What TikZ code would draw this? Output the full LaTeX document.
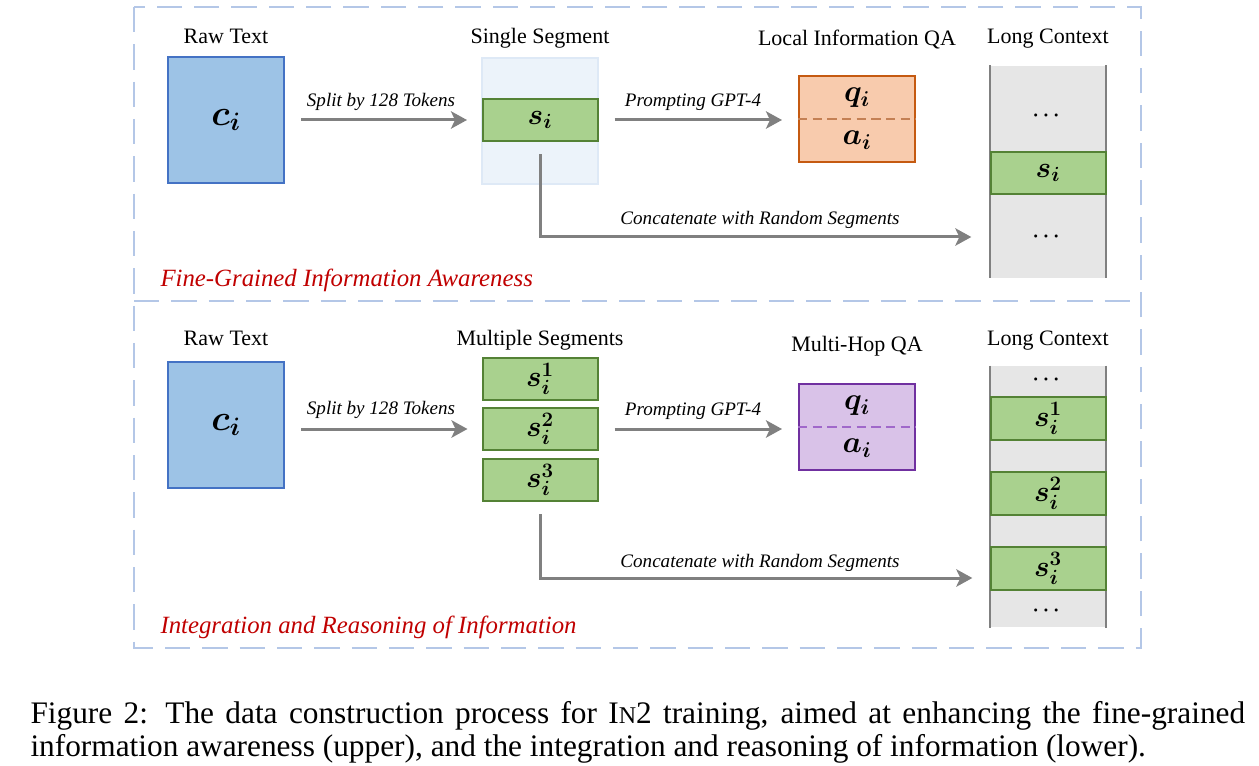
\documentclass[tikz,border=0pt]{standalone}
\usepackage{fix-cm}
\usepackage{amsmath,bm}
\usepackage{fontspec}
\setmainfont{Liberation Serif}
\usetikzlibrary{arrows.meta}

\definecolor{rawfill}{RGB}{157,195,230}
\definecolor{rawline}{RGB}{68,114,196}
\definecolor{segfill}{RGB}{169,209,142}
\definecolor{segline}{RGB}{84,130,53}
\definecolor{qafill}{RGB}{248,203,173}
\definecolor{qaline}{RGB}{197,90,17}
\definecolor{qadash}{RGB}{196,128,84}
\definecolor{mhfill}{RGB}{217,194,232}
\definecolor{mhline}{RGB}{112,48,160}
\definecolor{mhdash}{RGB}{160,104,202}
\definecolor{ctxfill}{RGB}{230,230,230}
\definecolor{ctxside}{RGB}{128,128,128}
\definecolor{flowgray}{RGB}{128,128,128}
\definecolor{bgfill}{RGB}{236,243,250}
\definecolor{bgline}{RGB}{222,233,246}
\definecolor{panelline}{RGB}{180,199,231}
\definecolor{tagred}{RGB}{192,0,0}

\tikzset{every picture/.style={line width=0.75pt}}
\tikzset{
  rawbox/.style={draw=rawline, fill=rawfill, line width=1.5pt, minimum width=87pt, minimum height=94.5pt, inner sep=0pt, font=\fontsize{27}{27}\selectfont},
  bgbox/.style={draw=bgline, fill=bgfill, line width=1.5pt, minimum width=87pt, minimum height=94.5pt, inner sep=0pt},
  segbox/.style={draw=segline, fill=segfill, line width=1.5pt, minimum width=86.25pt, minimum height=32pt, inner sep=0pt, font=\fontsize{22}{22}\selectfont},
  qabox/.style={line width=1.5pt, minimum width=87pt, minimum height=64.5pt, inner sep=0pt},
  qasplit/.style={line width=2.2pt, dash pattern=on 7pt off 4pt},
  ctxbox/.style={fill=ctxfill, minimum width=86.25pt, inner sep=0pt},
  ctxwall/.style={draw=ctxside, line width=2pt},
  dotsnode/.style={minimum width=86.25pt, inner sep=0pt, font=\fontsize{15}{15}\selectfont},
  mathnode/.style={inner sep=0pt, font=\fontsize{23}{23}\selectfont},
  title/.style={anchor=base, inner sep=0pt, font=\fontsize{16.5}{16.5}\selectfont},
  flowlbl/.style={anchor=base, inner sep=0pt, font=\fontsize{14.3}{14.3}\selectfont\itshape},
  tag/.style={anchor=base west, inner sep=0pt, text=tagred, font=\fontsize{18.6}{18.6}\selectfont\itshape},
  flow/.style={draw=flowgray, line width=2.25pt, -{Stealth[length=12pt, width=13pt, inset=3pt]}},
  panel/.style={draw=panelline, line width=2pt, dash pattern=on 19pt off 9pt},
}

\begin{document}
\begin{tikzpicture}[x=0.75pt,y=0.75pt,yscale=-1,xscale=1]
	\useasboundingbox (0,0) rectangle (1259,766);
	
	%Shape: Dashed Frame
	\draw [panel] (134,7) rectangle (1141,648) ;
	%Straight Lines
	\draw [panel] (134,301) -- (1141,301) ;
	
	%%% upper part
	%Shape: Rectangle
	\node [rawbox] (rawA) at (226,120) {$\bm{c_i}$};
	%Shape: Rectangle
	\node [bgbox] (bgA) at (540,121) {};
	%Shape: Rectangle
	\node [segbox] (segA) at (540,120) {$\bm{s_i}$};
	%Shape: Rectangle
	\node [qabox, draw=qaline, fill=qafill] (qaA) at (857,119) {};
	\draw [qasplit, draw=qadash] (qaA.west) -- (qaA.east) ;
	\node [mathnode] (qA) at (857,98) {$\bm{q_i}$};
	\node [mathnode] (aA) at (857,140) {$\bm{a_i}$};
	%Shape: Long Context
	\node [ctxbox, minimum height=159pt] (ctxA) at (1048,172) {};
	\draw [ctxwall] (ctxA.north west) -- (ctxA.south west) ;
	\draw [ctxwall] (ctxA.north east) -- (ctxA.south east) ;
	\node [dotsnode] (dotsA1) at (1048,116) {$\bm{\cdots}$};
	\node [segbox] (ctxsA) at (1048,173) {$\bm{s_i}$};
	\node [dotsnode] (dotsA2) at (1048,237) {$\bm{\cdots}$};
	
	%Straight Lines
	\draw [flow, shorten <=12pt, shorten >=10.5pt] (rawA.east) -- (rawA.east -| bgA.west) ;
	%Straight Lines
	\draw [flow, shorten <=12pt, shorten >=12pt] (segA.east) -- (segA.east -| qaA.west) ;
	%Straight Lines
	\draw [flow, shorten <=9pt, shorten >=14pt] (segA.south) |- (dotsA2.west) ;
	
	% Text Node
	\node [title] (rawtA) at (226,44) {Raw Text};
	% Text Node
	\node [title] (segtA) at (540,44) {Single Segment};
	% Text Node
	\node [title] (qatA) at (857,46) {Local Information QA};
	% Text Node
	\node [title] (ctxtA) at (1048,44) {Long Context};
	% Text Node
	\node [flowlbl] (splitA) at (381,107) {Split by 128 Tokens};
	% Text Node
	\node [flowlbl] (promptA) at (693,107) {Prompting GPT-4};
	% Text Node
	\node [flowlbl] (catA) at (760,225) {Concatenate with Random Segments};
	% Text Node
	\node [tag] (tagA) at (160,287) {Fine-Grained Information Awareness};
	
	%%% lower part
	%Shape: Rectangle
	\node [rawbox] (rawB) at (226,425) {$\bm{c_i}$};
	%Shape: Rectangle
	\node [segbox] (segB1) at (540,379) {$\bm{s_i^1}$};
	\node [segbox] (segB2) at (540,429) {$\bm{s_i^2}$};
	\node [segbox] (segB3) at (540,480) {$\bm{s_i^3}$};
	%Shape: Rectangle
	\node [qabox, draw=mhline, fill=mhfill] (mhB) at (857,427) {};
	\draw [qasplit, draw=mhdash] (mhB.west) -- (mhB.east) ;
	\node [mathnode] (qB) at (857,406) {$\bm{q_i}$};
	\node [mathnode] (aB) at (857,448) {$\bm{a_i}$};
	%Shape: Long Context
	\node [ctxbox, minimum height=195.75pt] (ctxB) at (1048,496.5) {};
	\draw [ctxwall] (ctxB.north west) -- (ctxB.south west) ;
	\draw [ctxwall] (ctxB.north east) -- (ctxB.south east) ;
	\node [dotsnode] (dotsB1) at (1048,380) {$\bm{\cdots}$};
	\node [segbox] (ctxsB1) at (1048,418.5) {$\bm{s_i^1}$};
	\node [segbox] (ctxsB2) at (1048,493.5) {$\bm{s_i^2}$};
	\node [segbox] (ctxsB3) at (1048,568.5) {$\bm{s_i^3}$};
	\node [dotsnode] (dotsB2) at (1048,611) {$\bm{\cdots}$};
	\coordinate (catB) at (991,578);
	
	%Straight Lines
	\draw [flow, shorten <=12pt, shorten >=10.5pt] (rawB.east |- segB2.west) -- (segB2.west) ;
	%Straight Lines
	\draw [flow, shorten <=12pt, shorten >=12pt] (segB2.east) -- (segB2.east -| mhB.west) ;
	%Straight Lines
	\draw [flow, shorten <=9pt, shorten >=14pt] (segB3.south) |- (catB) ;
	
	% Text Node
	\node [title] (rawtB) at (226,345) {Raw Text};
	% Text Node
	\node [title] (segtB) at (540,345) {Multiple Segments};
	% Text Node
	\node [title] (mhtB) at (857,352) {Multi-Hop QA};
	% Text Node
	\node [title] (ctxtB) at (1048,345) {Long Context};
	% Text Node
	\node [flowlbl] (splitB) at (381,414) {Split by 128 Tokens};
	% Text Node
	\node [flowlbl] (promptB) at (693,415) {Prompting GPT-4};
	% Text Node
	\node [flowlbl] (catlB) at (760,567) {Concatenate with Random Segments};
	% Text Node
	\node [tag] (tagB) at (160,633) {Integration and Reasoning of Information};
	
	% Text Node
	\node [anchor=base west, inner sep=0pt, font=\fontsize{23.5}{25}\selectfont] (caption) at (30,723) {\parbox[t]{911pt}{Figure 2: The data construction process for I{\fontsize{18}{18}\selectfont N}2 training, aimed at enhancing the fine-grained\linebreak information awareness (upper), and the integration and reasoning of information (lower).}};
	
\end{tikzpicture}
\end{document}
